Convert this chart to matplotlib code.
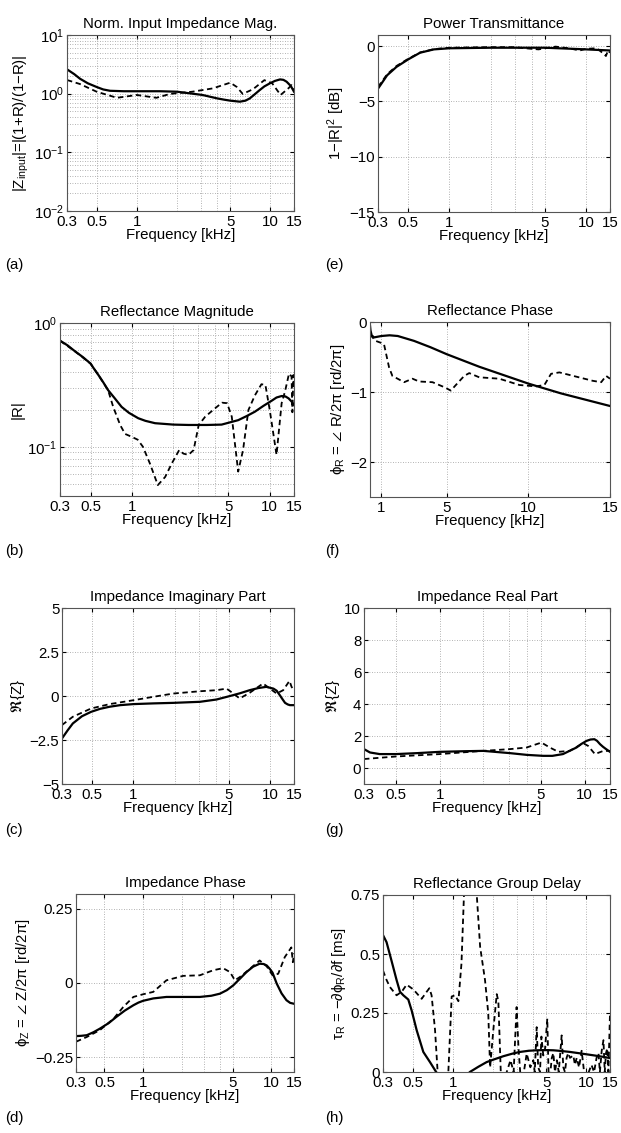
import matplotlib
matplotlib.use('Agg')
import matplotlib.pyplot as plt
from matplotlib.ticker import FixedLocator, FixedFormatter, NullFormatter, LogLocator

plt.rcParams['font.family'] = ['Liberation Sans', 'DejaVu Sans']
plt.rcParams['mathtext.fontset'] = 'custom'
plt.rcParams['mathtext.rm'] = 'Liberation Sans'
plt.rcParams['mathtext.it'] = 'Liberation Sans:italic'
plt.rcParams['mathtext.default'] = 'regular'
FS = 10.8
plt.rcParams['font.size'] = FS

# ---- data (frequency in kHz) ----
# (a) normalised input impedance magnitude
za_f_solid = [0.3, 0.34, 0.375, 0.43, 0.5, 0.56, 0.63, 0.8, 1.0, 1.5, 2.0, 3.1, 4.0, 4.5, 5.0, 5.9, 6.5, 7.0,
              7.6, 8.3, 9.0, 9.9, 10.8, 11.8, 12.5, 13.2, 14.2, 15]
za_solid = [2.6, 2.15, 1.8, 1.5, 1.3, 1.18, 1.12, 1.1, 1.1, 1.1, 1.08, 0.95, 0.83, 0.79, 0.76, 0.73, 0.76, 0.83,
            0.97, 1.15, 1.33, 1.5, 1.65, 1.75, 1.72, 1.6, 1.35, 1.08]
za_f_dash = [0.3, 0.375, 0.5, 0.71, 1.0, 1.4, 1.77, 2.6, 3.7, 5.0, 5.6, 6.2, 7.4, 9.0, 10.3, 11.9, 13.6, 14.4, 15]
za_dash = [1.71, 1.46, 1.08, 0.85, 0.95, 0.85, 0.99, 1.08, 1.23, 1.54, 1.3, 0.99, 1.19, 1.7, 1.5, 0.95, 1.23, 1.4, 1.15]

# (e) power transmittance [dB]
pt_f_solid = [0.3, 0.35, 0.41, 0.5, 0.61, 0.77, 1.0, 2.0, 5.0, 8.0, 10.0, 15.0]
pt_solid = [-3.85, -2.64, -1.88, -1.2, -0.6, -0.3, -0.2, -0.15, -0.15, -0.25, -0.3, -0.4]
pt_f_dash = [0.3, 0.35, 0.41, 0.5, 0.61, 0.77, 1.0, 2.0, 3.0, 4.0, 4.5, 5.0, 6.0, 7.5, 9.0, 10.0, 12.0, 13.5, 14.0, 14.5, 15.0]
pt_dash = [-3.7, -2.55, -1.8, -1.15, -0.58, -0.28, -0.15, -0.1, -0.1, -0.25, -0.3, -0.2, -0.05, -0.2, -0.4, -0.25, -0.2, -0.7, -0.9, -0.4, -0.6]

# (b) reflectance magnitude
rm_f_solid = [0.3, 0.34, 0.386, 0.44, 0.5, 0.535, 0.57, 0.62, 0.67, 0.75, 0.84, 0.95, 1.11, 1.25, 1.47, 2.0, 2.57,
              3.5, 4.47, 5.9, 6.8, 7.8, 9.0, 10.3, 11.2, 12.2, 13.0, 13.7, 14.4, 15]
rm_solid = [0.72, 0.66, 0.59, 0.53, 0.47, 0.42, 0.38, 0.33, 0.287, 0.246, 0.21, 0.188, 0.17, 0.162, 0.155, 0.151, 0.15,
            0.15, 0.151, 0.164, 0.177, 0.192, 0.214, 0.235, 0.25, 0.257, 0.255, 0.246, 0.232, 0.217]
rm_f_dash = [0.3, 0.386, 0.5, 0.57, 0.67, 0.73, 0.82, 0.89, 1.0, 1.1, 1.2, 1.35, 1.54, 1.74, 1.94, 2.2, 2.36,
             2.57, 2.8, 3.05, 3.4, 4.0, 4.5, 4.9, 5.3, 5.9, 6.4, 7.0, 7.8, 8.7, 9.3, 10.0, 11.2, 12.2, 12.9,
             13.8, 14.4, 14.6, 14.85, 15]
rm_dash = [0.72, 0.59, 0.47, 0.38, 0.287, 0.21, 0.15, 0.127, 0.12, 0.114, 0.1, 0.073, 0.049, 0.057, 0.073, 0.094, 0.088,
           0.086, 0.094, 0.15, 0.175, 0.204, 0.227, 0.225, 0.175, 0.063, 0.094, 0.198, 0.26, 0.32, 0.316, 0.198, 0.086, 0.225, 0.279,
           0.39, 0.37, 0.19, 0.38, 0.3]

# (f) reflectance phase [rd/2pi], linear frequency axis
rp_f_solid = [0.3, 0.33, 0.4, 0.55, 1.0, 1.5, 2.0, 3.0, 4.0, 5.0, 6.0, 7.0, 8.0, 9.0, 10.0, 11.0, 12.0, 13.0, 14.0, 15.0]
rp_solid = [-0.05, -0.12, -0.19, -0.22, -0.2, -0.19, -0.2, -0.27, -0.36, -0.46, -0.55, -0.64, -0.72, -0.8, -0.88, -0.95, -1.02, -1.08, -1.14, -1.2]
rp_f_dash = [0.3, 0.65, 1.0, 1.16, 1.47, 1.67, 2.39, 2.9, 3.31, 4.13, 4.84, 5.25, 5.56, 6.07, 6.38, 6.99, 8.22, 9.45,
             10.47, 10.98, 11.39, 11.9, 12.92, 13.94, 14.46, 14.76, 15.0]
rp_dash = [-0.18, -0.27, -0.3, -0.32, -0.65, -0.77, -0.86, -0.81, -0.85, -0.86, -0.93, -0.98, -0.9, -0.77, -0.73, -0.79, -0.81, -0.9,
           -0.92, -0.9, -0.74, -0.72, -0.78, -0.84, -0.86, -0.77, -0.81]

# (c) impedance imaginary part
zi_f_solid = [0.3, 0.33, 0.36, 0.42, 0.49, 0.57, 0.67, 0.8, 1.0, 1.4, 1.96, 3.07, 4.06, 5.1, 6.0, 7.1, 8.2, 9.4,
              10.6, 11.2, 11.8, 12.4, 12.9, 13.5, 14.0, 15]
zi_solid = [-2.41, -1.95, -1.56, -1.15, -0.9, -0.73, -0.61, -0.52, -0.46, -0.42, -0.39, -0.33, -0.2, 0.0, 0.15, 0.33, 0.45, 0.52,
            0.42, 0.3, 0.05, -0.2, -0.39, -0.48, -0.52, -0.52]
zi_f_dash = [0.3, 0.36, 0.49, 0.67, 1.0, 1.39, 1.96, 3.07, 4.06, 4.81, 5.4, 6.0, 7.1, 8.9, 10.0, 11.2, 12.5, 13.9, 14.4, 15]
zi_dash = [-1.65, -1.18, -0.71, -0.46, -0.24, -0.05, 0.14, 0.27, 0.33, 0.42, 0.14, -0.14, 0.18, 0.71, 0.42, 0.14, 0.33, 0.86, 0.52, 0.33]

# (g) impedance real part
zr_f_solid = [0.3, 0.33, 0.385, 0.5, 0.7, 1.0, 1.5, 2.0, 3.05, 4.0, 5.18, 6.0, 7.1, 8.8, 9.5, 10.3, 11.0, 11.7, 12.2,
              12.8, 13.4, 14.0, 15]
zr_solid = [1.18, 0.97, 0.87, 0.87, 0.93, 1.01, 1.05, 1.07, 0.93, 0.82, 0.76, 0.76, 0.87, 1.28, 1.5, 1.69, 1.78, 1.8, 1.7,
            1.49, 1.33, 1.2, 1.01]
zr_f_dash = [0.3, 0.5, 1.0, 2.0, 3.05, 3.98, 5.04, 5.76, 6.6, 7.9, 9.8, 10.6, 11.8, 13.5, 15]
zr_dash = [0.56, 0.72, 0.87, 1.07, 1.18, 1.28, 1.59, 1.28, 1.01, 1.07, 1.55, 1.38, 0.87, 1.07, 1.07]

# (d) impedance phase [rd/2pi]
zp_f_solid = [0.3, 0.33, 0.364, 0.41, 0.46, 0.54, 0.62, 0.72, 0.84, 0.92, 1.0, 1.2, 1.52, 2.05, 2.77, 3.4, 3.97,
              4.5, 5.04, 5.7, 6.4, 7.2, 8.1, 8.7, 9.2, 9.7, 10.2, 11.0, 12.0, 13.1, 14.0, 15]
zp_solid = [-0.179, -0.178, -0.176, -0.166, -0.154, -0.135, -0.114, -0.093, -0.075, -0.066, -0.06, -0.052, -0.047,
            -0.047, -0.047, -0.043, -0.036, -0.024, -0.008, 0.015, 0.037, 0.055, 0.065, 0.064, 0.059, 0.048, 0.035,
            -0.002, -0.035, -0.058, -0.067, -0.07]
zp_f_dash = [0.3, 0.364, 0.46, 0.59, 0.70, 0.84, 1.0, 1.2, 1.52, 2.05, 2.77, 3.52, 4.2, 4.75, 5.2, 5.67, 6.6, 8.1, 9.2,
             10.2, 11.3, 12.7, 13.5, 14.3, 14.7, 15]
zp_dash = [-0.198, -0.182, -0.159, -0.12, -0.081, -0.047, -0.038, -0.03, 0.009, 0.024, 0.026, 0.043, 0.05, 0.037, 0.009,
           0.02, 0.043, 0.076, 0.056, 0.026, 0.031, 0.087, 0.104, 0.12, 0.07, 0.1]

# (h) reflectance group delay [ms]
gd_f_solid = [0.3, 0.319, 0.348, 0.379, 0.402, 0.426, 0.464, 0.492, 0.536, 0.601, 0.674, 0.75, 0.85, 1.0, 1.15, 1.34,
              1.55, 1.79, 2.0, 2.39, 2.8, 3.18, 3.7, 4.24, 4.9, 5.65, 6.5, 7.53, 8.7, 10.0, 11.5, 13.4, 15]
gd_solid = [0.58, 0.55, 0.47, 0.39, 0.34, 0.325, 0.307, 0.26, 0.177, 0.085, 0.042, 0.0, -0.04, -0.06, -0.04, 0.0,
            0.022, 0.042, 0.052, 0.067, 0.078, 0.085, 0.09, 0.092, 0.093, 0.092, 0.089, 0.085, 0.08, 0.075, 0.07,
            0.064, 0.059]
gd_f_dash = [0.3, 0.319, 0.338, 0.379, 0.414, 0.451, 0.506, 0.584, 0.637, 0.667,
             0.693, 0.735, 0.779, 0.80, 0.90, 0.925, 0.98, 1.04, 1.10, 1.16,
             1.22, 1.34, 1.49, 1.60, 1.74, 1.84, 1.90, 2.01, 2.13, 2.19,
             2.29, 2.39, 2.53, 2.7, 2.85, 3.0, 3.1, 3.21, 3.4, 3.57,
             3.8, 4.0, 4.1, 4.24, 4.35, 4.49, 4.6, 4.75, 4.9, 5.09,
             5.2, 5.33, 5.5, 5.65, 5.81, 6.0, 6.2, 6.52, 6.71, 6.9,
             7.1, 7.3, 7.53, 7.97, 8.2, 8.45, 8.8, 9.2, 9.6, 10.0,
             10.4, 10.9, 11.4, 11.9, 12.3, 12.6, 13.0, 13.4, 13.7, 14.0,
             14.3, 14.6, 15]
gd_dash = [0.43, 0.39, 0.36, 0.325, 0.34, 0.37, 0.35, 0.31, 0.34, 0.355,
           0.325, 0.18, -0.05, -0.1, -0.1, 0.0, 0.32, 0.325, 0.30, 0.46,
           0.8, 0.85, 0.8, 0.53, 0.39, 0.25, 0.02, 0.18, 0.33, 0.30,
           -0.02, -0.05, 0.0, 0.05, 0.0, 0.275, 0.1, -0.02, 0.0, 0.078,
           0.02, 0.05, 0.0, 0.19, 0.02, 0.0, 0.15, 0.07, 0.1, 0.226,
           0.0, -0.02, 0.06, 0.08, 0.0, 0.05, 0.0, 0.155, 0.02, 0.0,
           0.06, 0.08, 0.06, 0.07, 0.03, 0.06, 0.02, 0.09, 0.0, -0.02,
           0.0, 0.03, 0.0, 0.06, 0.08, 0.0, 0.09, 0.135, 0.0, 0.08,
           0.1, 0.0, 0.25]

LOG_TICKS = [0.3, 0.5, 1, 5, 10, 15]
LOG_LABELS = ['0.3', '0.5', '1', '5', '10', '15']
LOG_GRID_EXTRA = [2, 3, 4]

W, H = 621, 1133
GRID = dict(color='#9a9a9a', lw=0.6, ls=(0, (1, 2)))


def box(l, r, t, b):
    return [l / W, 1 - b / H, (r - l) / W, (b - t) / H]


def style(ax, title, ylabel, logx=True, logy_minor=False):
    if logx:
        ax.set_xscale('log')
        ax.set_xlim(0.3, 15)
        ax.xaxis.set_major_locator(FixedLocator(LOG_TICKS))
        ax.xaxis.set_major_formatter(FixedFormatter(LOG_LABELS))
        ax.xaxis.set_minor_locator(FixedLocator(LOG_GRID_EXTRA))
        ax.xaxis.set_minor_formatter(NullFormatter())
    ax.grid(True, which='major', **GRID)
    if logx:
        ax.grid(True, which='minor', axis='x', **GRID)
    if logy_minor:
        ax.yaxis.set_minor_locator(LogLocator(base=10, subs=range(2, 10), numticks=20))
        ax.grid(True, which='minor', axis='y', **GRID)
    ax.tick_params(which='major', direction='in', top=True, right=True, length=3, labelsize=FS)
    ax.tick_params(axis='x', which='major', pad=3)
    ax.tick_params(axis='y', which='major', pad=2)
    ax.tick_params(which='minor', direction='in', top=True, right=True, length=0)
    for s in ax.spines.values():
        s.set_color('#555555')
        s.set_linewidth(0.8)
    ax.set_title(title, fontsize=FS, pad=5)
    ax.set_xlabel('Frequency [kHz]', fontsize=FS, labelpad=-1)
    ax.set_ylabel(ylabel, fontsize=FS, labelpad=2)


def pair(ax, fs, ys, fd, yd):
    ax.plot(fs, ys, color='black', lw=1.6, solid_joinstyle='round')
    ax.plot(fd, yd, color='black', lw=1.3, ls=(0, (3, 2)))


fig = plt.figure(figsize=(W / 100, H / 100), dpi=100)

# (a)
ax = fig.add_axes(box(67, 294, 35, 211))
pair(ax, za_f_solid, za_solid, za_f_dash, za_dash)
ax.set_yscale('log')
ax.set_ylim(1e-2, 1e1)
ax.yaxis.set_major_locator(LogLocator(base=10, numticks=10))
style(ax, 'Norm. Input Impedance Mag.', '|$Z_{input}$|=|(1+R)/(1\u2212R)|', logy_minor=True)

# (e)
ax = fig.add_axes(box(378, 610, 35, 212))
pair(ax, pt_f_solid, pt_solid, pt_f_dash, pt_dash)
ax.set_ylim(-15, 1)
ax.set_yticks([-15, -10, -5, 0])
style(ax, 'Power Transmittance', '1\u2212|R|$^2$ [dB]')

# (b)
ax = fig.add_axes(box(60, 294, 323, 496))
pair(ax, rm_f_solid, rm_solid, rm_f_dash, rm_dash)
ax.set_yscale('log')
ax.set_ylim(0.04, 1)
ax.yaxis.set_major_locator(LogLocator(base=10, numticks=10))
style(ax, 'Reflectance Magnitude', '|R|', logy_minor=True)

# (f)
ax = fig.add_axes(box(370, 610, 322, 497))
pair(ax, rp_f_solid, rp_solid, rp_f_dash, rp_dash)
ax.set_xlim(0.3, 15)
ax.set_xticks([1, 5, 10, 15])
ax.set_ylim(-2.5, 0)
ax.set_yticks([-2, -1, 0])
style(ax, 'Reflectance Phase', r'$\phi_R$ = $\angle$ R/2$\pi$ [rd/2$\pi$]', logx=False)

# (c)
ax = fig.add_axes(box(62, 294, 608, 784))
pair(ax, zi_f_solid, zi_solid, zi_f_dash, zi_dash)
ax.set_ylim(-5, 5)
ax.set_yticks([-5, -2.5, 0, 2.5, 5])
ax.set_yticklabels(['\u22125', '\u22122.5', '0', '2.5', '5'])
style(ax, 'Impedance Imaginary Part', r'$\Re\{Z\}$')

# (g)
ax = fig.add_axes(box(364, 610, 608, 784))
pair(ax, zr_f_solid, zr_solid, zr_f_dash, zr_dash)
ax.set_ylim(-1, 10)
ax.set_yticks([0, 2, 4, 6, 8, 10])
style(ax, 'Impedance Real Part', r'$\Re\{Z\}$')

# (d)
ax = fig.add_axes(box(76, 294, 894, 1072))
pair(ax, zp_f_solid, zp_solid, zp_f_dash, zp_dash)
ax.set_ylim(-0.3, 0.3)
ax.set_yticks([-0.25, 0, 0.25])
ax.set_yticklabels(['\u22120.25', '0', '0.25'])
style(ax, 'Impedance Phase', r'$\phi_Z$ = $\angle$ Z/2$\pi$ [rd/2$\pi$]')

# (h)
ax = fig.add_axes(box(383, 610, 895, 1072))
pair(ax, gd_f_solid, gd_solid, gd_f_dash, gd_dash)
ax.set_ylim(0, 0.75)
ax.set_yticks([0, 0.25, 0.5, 0.75])
ax.set_yticklabels(['0', '0.25', '0.5', '0.75'])
style(ax, 'Reflectance Group Delay', '$\\tau_R$ = \u2212$\\partial\\phi_R/\\partial f$ [ms]')

for lab, x, y in [('(a)', 5, 265), ('(e)', 325, 265), ('(b)', 5, 551), ('(f)', 325, 551),
                  ('(c)', 5, 830), ('(g)', 325, 830), ('(d)', 5, 1118), ('(h)', 325, 1118)]:
    fig.text(x / W, 1 - y / H, lab, fontsize=FS, ha='left', va='center')

fig.savefig('out.png', dpi=100)
